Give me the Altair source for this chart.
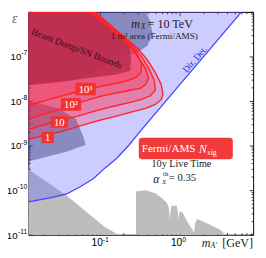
import altair as alt
import pandas as pd

# ---------------- data: log10(m_A' / GeV) and log10(epsilon) ----------------
dirdet_lm = [-1.90, -1.644, -1.424, -1.241, -1.083, -0.937, -0.790, -0.632, -0.485, 0.783, -1.90]
dirdet_le = [-10.264, -10.177, -10.091, -9.918, -9.745, -9.506, -9.290, -8.987, -8.662, -6.0, -6.0]

grayL_lm = [-1.90, -1.424, -0.937, -0.766, -1.90]
grayL_le = [-9.528, -10.113, -10.827, -11.0, -11.0]

grayR_lm = [-0.546, -0.546, -0.424, -0.302, -0.217, -0.156, -0.132, -0.120, -0.107, -0.095, -0.034,
            -0.022, -0.010, 0.003, 0.015, 0.039, 0.100, 0.161, 0.185, 0.198, 0.222, 0.271,
            0.393, 0.515, 0.576]
grayR_le = [-11.0, -10.03, -10.00, -10.07, -10.18, -10.29, -10.40, -10.65, -10.40, -10.35, -10.35,
            -10.45, -10.65, -10.48, -10.48, -10.50, -10.71, -10.87, -10.96, -10.75, -10.65,
            -10.68, -10.78, -10.89, -11.0]

blobA_lm = [-1.90, -0.424, -0.363, -0.339, -0.400, -0.546, -0.729, -0.912, -1.095, -1.40, -1.705, -1.90]
blobA_le = [-6.0, -6.0, -6.216, -6.498, -6.758, -6.931, -6.974, -7.190, -7.407, -7.537, -7.580, -7.623]

blobB_lm = [-1.90, -1.705, -1.522, -1.302, -1.266, -1.205, -1.180, -1.424, -1.705, -1.90]
blobB_le = [-8.013, -8.078, -8.165, -8.403, -8.554, -8.814, -8.987, -9.139, -9.268, -9.355]

beam_lm = [-1.90, -1.132, -0.912, -0.729, -0.632, -0.607, -0.620, -0.790, -1.095, -1.522, -1.90]
beam_le = [-6.0, -6.0, -6.281, -6.541, -6.758, -7.039, -7.320, -7.407, -7.472, -7.580, -7.645]

c1_lm = [-1.90, -1.705, -1.485, -1.278, -1.034, -0.790, -0.607, -0.424, -0.302, -0.229, -0.205,
         -0.229, -0.302, -0.400, -0.510, -0.620, -0.851, -1.059, -1.90]
c1_le = [-8.857, -8.771, -8.684, -8.576, -8.446, -8.338, -8.251, -8.165, -8.078, -7.970, -7.840,
         -7.623, -7.364, -7.082, -6.844, -6.671, -6.325, -6.0, -6.0]
c10_lm = [-1.90, -1.705, -1.522, -1.278, -1.034, -0.790, -0.632, -0.485, -0.363, -0.302, -0.315,
          -0.388, -0.485, -0.595, -0.815, -1.083, -1.90]
c10_le = [-8.641, -8.532, -8.446, -8.338, -8.208, -8.100, -8.035, -7.970, -7.883, -7.753, -7.537,
          -7.255, -6.974, -6.758, -6.390, -6.0, -6.0]
c100_lm = [-1.90, -1.705, -1.461, -1.217, -0.973, -0.729, -0.607, -0.485, -0.424, -0.388, -0.424,
           -0.510, -0.595, -0.815, -1.107, -1.90]
c100_le = [-8.403, -8.294, -8.165, -8.013, -7.883, -7.797, -7.753, -7.710, -7.623, -7.494, -7.277,
           -7.039, -6.823, -6.433, -6.0, -6.0]
c1000_lm = [-1.90, -1.644, -1.302, -1.034, -0.790, -0.644, -0.546, -0.485, -0.473, -0.522, -0.595,
            -0.815, -1.132, -1.90]
c1000_le = [-8.100, -7.970, -7.797, -7.688, -7.602, -7.537, -7.472, -7.364, -7.190, -6.974, -6.801,
            -6.455, -6.0, -6.0]

nsig_labels = ["10³", "10²", "10", "1"]
nsig_lm = [-1.180, -1.363, -1.510, -1.656]
nsig_le = [-7.732, -8.078, -8.468, -8.815]

y_exps = [-11, -10, -9, -8, -7]
y_sup = ["-11", "-10", "-9", "-8", "-7"]
x_exps = [-1, 0]
x_sup = ["-1", "0"]

# ---------------- helpers ----------------
def poly(lm, le, g=0):
    return pd.DataFrame({"m": [10 ** v for v in lm], "eps": [10 ** v for v in le],
                         "i": list(range(len(lm))), "g": [g] * len(lm)})

xs = alt.Scale(type="log", domain=[10 ** -1.9, 10 ** 0.929])
ys = alt.Scale(type="log", domain=[1e-11, 1e-6])
X = alt.X("m:Q", scale=xs, axis=None)
Y = alt.Y("eps:Q", scale=ys, axis=None)

def fillpoly(df, **kw):
    return alt.Chart(df).mark_line(clip=True, **kw).encode(
        x=X, y=Y, order="i:Q", detail="g:N")

L10 = "log(datum.value)/LN10"
MAJ = f"abs({L10} - round({L10})) < 0.01"

yvals = [d * 10.0 ** k for k in range(-11, -6) for d in range(1, 10)] + [1e-6]
xvals = [d * 10.0 ** k for k in (-2, -1, 0) for d in range(1, 10)]
xvals = [v for v in xvals if 10 ** -1.9 <= v <= 10 ** 0.929]

tick = {"condition": {"test": MAJ, "value": -4}, "value": -2}

def axis(orient, vals):
    return alt.Axis(orient=orient, values=vals, tickSize=tick, tickColor="black", tickWidth=0.8,
                    domain=False, grid=False, title=None, labels=False)

# ---------------- layers ----------------
OX, OY = 29, 8  # plot origin on the page
H = 230

gray_left = alt.Chart(poly(grayL_lm, grayL_le)).mark_line(
    clip=True, fill="#bdbdbd", strokeOpacity=0).encode(
    x=alt.X("m:Q", scale=xs, axis=axis("bottom", xvals)),
    y=alt.Y("eps:Q", scale=ys, axis=axis("left", yvals)), order="i:Q")
gray_right = fillpoly(poly(grayR_lm, grayR_le), fill="#bdbdbd", strokeOpacity=0)

frame_axes = alt.Chart(poly(grayL_lm, grayL_le)).mark_line(opacity=0).encode(
    x=alt.X("m:Q", scale=xs, axis=axis("top", xvals)),
    y=alt.Y("eps:Q", scale=ys, axis=axis("right", yvals)))

dirdet = fillpoly(poly(dirdet_lm, dirdet_le), fill="#6464ff", fillOpacity=0.33, strokeOpacity=0)
dirdet_line = alt.Chart(poly(dirdet_lm[:-1], dirdet_le[:-1])).mark_line(
    color="#4545ff", strokeWidth=1.3, clip=True).encode(x=X, y=Y, order="i:Q")

blobs = fillpoly(pd.concat([poly(blobA_lm, blobA_le, 1), poly(blobB_lm, blobB_le, 2)]),
                 fill="#3a3a78", fillOpacity=0.45, strokeOpacity=0)

contours = pd.concat([poly(c1_lm, c1_le, 1), poly(c10_lm, c10_le, 2),
                      poly(c100_lm, c100_le, 3), poly(c1000_lm, c1000_le, 4)])
cont_fill = fillpoly(contours, fill="#ff2040", fillOpacity=0.25, strokeOpacity=0)
beam = fillpoly(poly(beam_lm, beam_le), fill="#b82a4c", fillOpacity=0.8, strokeOpacity=0)
cont_line = fillpoly(contours, stroke="#ff2222", strokeWidth=1.4)

labdf = pd.DataFrame({"m": [10 ** v for v in nsig_lm], "eps": [10 ** v for v in nsig_le],
                      "t": nsig_labels})
boxw = {"10³": 21, "10²": 21, "10": 18, "1": 13}
boxh = {"10³": 13, "10²": 13, "10": 12, "1": 12}
labdf["size"] = [boxw[t] ** 2 for t in labdf["t"]]
labdf["shape"] = [f"M-1,-{boxh[t] / boxw[t]:.3f}H1V{boxh[t] / boxw[t]:.3f}H-1Z" for t in labdf["t"]]
boxes = alt.Chart(labdf).mark_point(filled=True, color="#f23333", opacity=1).encode(
    x=X, y=Y, size=alt.Size("size:Q", scale=None), shape=alt.Shape("shape:N", scale=None))
boxtext = alt.Chart(labdf).mark_text(font="Liberation Serif", fontSize=11, color="white",
                                     dy=1).encode(x=X, y=Y, text="t:N")

# tick labels (10 with raised exponent)
SUPS = 7.0
def supw(s):
    return sum(0.333 * SUPS if c == "-" else 0.556 * SUPS for c in s)

ylab = pd.DataFrame({"eps": [10.0 ** e for e in y_exps], "sup": y_sup})
ylab["px_sup"] = -1.0
ylab["px_base"] = [-1.0 - supw(s) for s in y_sup]
ylab["base"] = "10"
LF = "Liberation Sans"
ybase = alt.Chart(ylab).mark_text(font=LF, fontSize=10, align="right", dy=1, color="black").encode(
    x=alt.X("px_base:Q", scale=None), y=Y, text="base:N")
ysupt = alt.Chart(ylab).mark_text(font=LF, fontSize=SUPS, align="right", dy=-3, color="black").encode(
    x=alt.X("px_sup:Q", scale=None), y=Y, text="sup:N")

xlab = pd.DataFrame({"m": [10.0 ** e for e in x_exps], "sup": x_sup, "base": "10"})
xbase = alt.Chart(xlab).mark_text(font=LF, fontSize=10.5, align="right", dx=3, color="black").encode(
    x=X, y=alt.value(H + 9), text="base:N")
xsupt = alt.Chart(xlab).mark_text(font=LF, fontSize=SUPS, align="left", dx=3, color="black").encode(
    x=X, y=alt.value(H + 5.5), text="sup:N")

one = pd.DataFrame({"a": [0]})

def txt(s, px, py, size=11, **kw):
    return alt.Chart(one).mark_text(text=s, fontSize=size, font=kw.pop("font", "Liberation Serif"),
                                    **kw).encode(x=alt.value(px - OX), y=alt.value(py - OY))

fbox = alt.Chart(one).mark_rect(color="#f23a3a", cornerRadius=3).encode(
    x=alt.value(143 - OX), x2=alt.value(240 - OX), y=alt.value(138 - OY), y2=alt.value(160 - OY))

texts = [
    txt("ε", 15, 15, 14, fontStyle="italic", color="#606060"),
    txt("m", 208, 247, 12.5, fontStyle="italic", align="left", color="#222"),
    txt("A′", 217, 250, 8, fontStyle="italic", align="left", color="#222"),
    txt("[GeV]", 229, 247, 12.5, align="left", color="#222"),
    txt("m", 135, 21, 13, fontStyle="italic", align="left", color="#222"),
    txt("X", 145, 24, 8, fontStyle="italic", align="left", color="#222"),
    txt("= 10 TeV", 152, 21, 12.5, align="left", color="#222"),
    txt("1 m² area (Fermi/AMS)", 159, 33, 9.5, color="#222"),
    txt("Beam Dump/SN Bounds", 79, 46, 10, angle=21, color="#3d0c1a"),
    txt("Dir. Det.", 201, 57, 9.5, angle=311, color="#2a2ae0"),
    txt("Fermi/AMS", 146, 150, 11.5, align="left", color="white"),
    txt("N", 205, 150, 12, fontStyle="italic", align="left", color="white"),
    txt("sig", 214, 154, 8, align="left", color="white"),
    txt("10y Live Time", 187, 165, 10.5, color="#222"),
    txt("α", 161, 181, 12, fontStyle="italic", color="#222"),
    txt("th", 168, 175, 7, align="left", color="#222"),
    txt("X", 167, 184, 7, fontStyle="italic", align="left", color="#222"),
    txt("= 0.35", 174, 180, 11, align="left", color="#222"),
]

chart = alt.layer(
    gray_left, gray_right, frame_axes, dirdet, blobs, cont_fill, beam, cont_line,
    dirdet_line, boxes, boxtext, ybase, ysupt, xbase, xsupt, fbox, *texts
).resolve_axis(x="independent", y="independent").properties(
    width=232, height=H,
    padding={"left": 21, "top": 0, "right": 5, "bottom": 20},
    autosize=alt.AutoSizeParams(type="none"),
    background="white",
).configure_view(stroke="black", strokeWidth=1)

chart.save("out.html", embed_options={"renderer": "svg", "actions": False})
